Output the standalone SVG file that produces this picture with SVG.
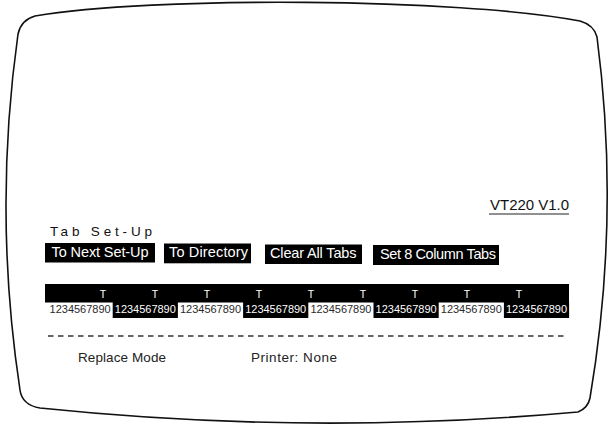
<svg xmlns="http://www.w3.org/2000/svg" width="613" height="429" viewBox="0 0 613 429">
  <style>
    text { font-family: "Liberation Sans", Arial, sans-serif; }
    .btn { fill: #000; }
    .btnText { fill: #fff; font-size: 14.5px; }
    .tm { fill: #fff; font-size: 10.5px; text-anchor: middle; }
    .dg { font-size: 11px; text-anchor: middle; }
    .dgW { fill: #2a2a2a; }
    .dgB { fill: #fff; }
    .lbl { fill: #222; font-size: 13.5px; }
  </style>
  <rect width="613" height="429" fill="#fff"/>
  <g id="screen-border">
    <path d="M18,34 Q-7,212 20,390 Q22,405 40,408 Q310,436 578,412 Q588,408 590,398 Q620.5,217 597,37 Q594,25 580,21 C460,-2 150,-4 35,16 Q21,20 18,34 Z" fill="none" stroke="#111" stroke-width="1.6"/>
  </g>
  <g id="version">
    <text x="490" y="210" font-size="15" fill="#111" textLength="79">VT220 V1.0</text>
    <line x1="489" y1="214" x2="569" y2="214" stroke="#222" stroke-width="1.2"/>
  </g>
  <g id="title">
    <text x="50" y="235.5" font-size="13.5" fill="#111" textLength="102">Tab Set-Up</text>
  </g>
  <g id="btn-next">
    <rect class="btn" x="45" y="243" width="110" height="19.5"/>
    <text class="btnText" x="51.5" y="256.5" textLength="97">To Next Set-Up</text>
  </g>
  <g id="btn-directory">
    <rect class="btn" x="164" y="243.5" width="87" height="19.8"/>
    <text class="btnText" x="169" y="257" textLength="79">To Directory</text>
  </g>
  <g id="btn-clear">
    <rect class="btn" x="265" y="244.5" width="97" height="19.5"/>
    <text class="btnText" x="270" y="257.8" textLength="86.5">Clear All Tabs</text>
  </g>
  <g id="btn-set8">
    <rect class="btn" x="373" y="245" width="126" height="20"/>
    <text class="btnText" x="380" y="258.5" textLength="116">Set 8 Column Tabs</text>
  </g>
  <g id="ruler">
    <rect x="45" y="284" width="524" height="18.5" fill="#000"/>
    <rect x="112.7" y="302" width="65.2" height="16" fill="#000"/>
    <rect x="243.1" y="302" width="65.2" height="16" fill="#000"/>
    <rect x="373.5" y="302" width="65.2" height="16" fill="#000"/>
    <rect x="503.9" y="302" width="65.2" height="16" fill="#000"/>
    <text class="tm" x="103" y="298">T</text>
    <text class="tm" x="155" y="298">T</text>
    <text class="tm" x="207" y="298">T</text>
    <text class="tm" x="259" y="298">T</text>
    <text class="tm" x="311" y="298">T</text>
    <text class="tm" x="363" y="298">T</text>
    <text class="tm" x="415" y="298">T</text>
    <text class="tm" x="467" y="298">T</text>
    <text class="tm" x="519" y="298">T</text>
    <text class="dg dgW" x="80.1" y="312.8" textLength="61">1234567890</text>
    <text class="dg dgB" x="145.3" y="312.8" textLength="61">1234567890</text>
    <text class="dg dgW" x="210.5" y="312.8" textLength="61">1234567890</text>
    <text class="dg dgB" x="275.7" y="312.8" textLength="61">1234567890</text>
    <text class="dg dgW" x="340.9" y="312.8" textLength="61">1234567890</text>
    <text class="dg dgB" x="406.1" y="312.8" textLength="61">1234567890</text>
    <text class="dg dgW" x="471.3" y="312.8" textLength="61">1234567890</text>
    <text class="dg dgB" x="536.5" y="312.8" textLength="61">1234567890</text>
  </g>
  <g id="separator">
    <line x1="48" y1="336" x2="567" y2="336" stroke="#333" stroke-width="1.4" stroke-dasharray="5.5 4.5"/>
  </g>
  <g id="status">
    <text class="lbl" x="78" y="362" textLength="88">Replace Mode</text>
    <text class="lbl" x="251" y="362" textLength="86">Printer: None</text>
  </g>
</svg>
